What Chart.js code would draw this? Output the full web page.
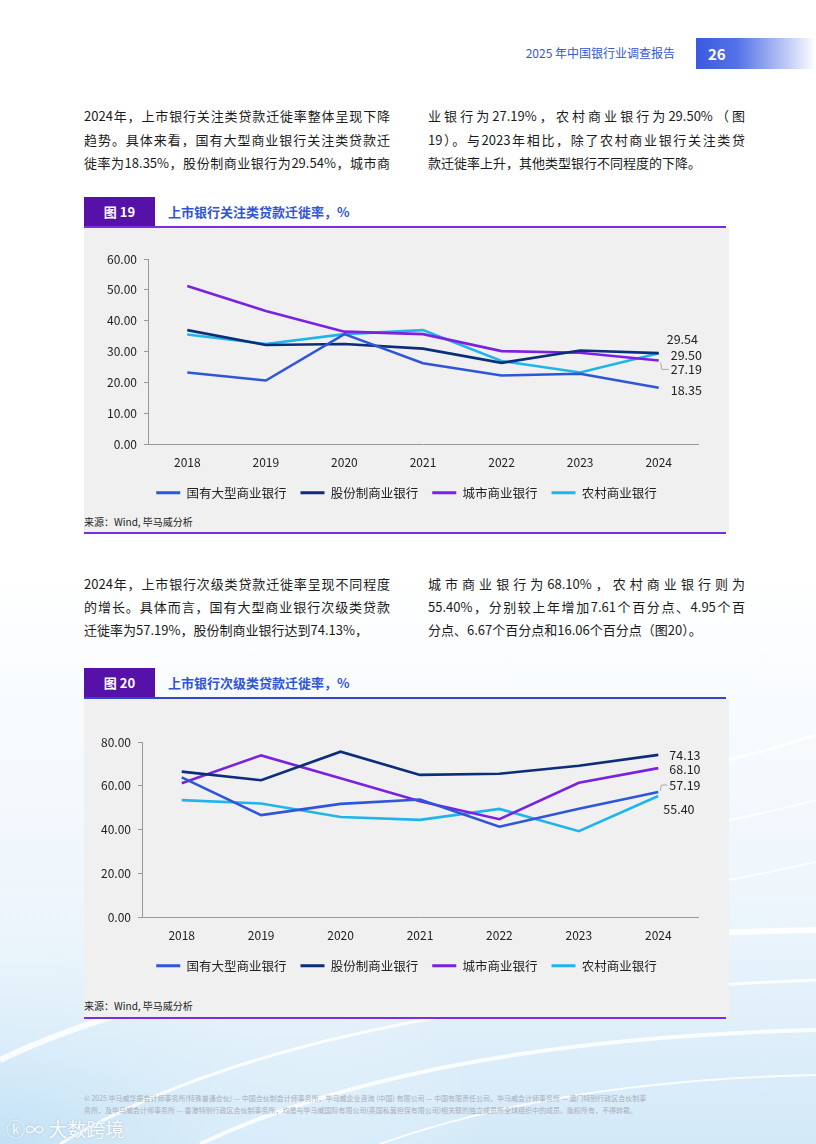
<!DOCTYPE html>
<html>
<head>
<meta charset="utf-8">
<script src="https://cdn.jsdelivr.net/npm/chart.js@4.4.1/dist/chart.umd.min.js"></script>
<style>
  body { margin: 0; }
  #page {
    position: relative; width: 816px; height: 1144px; overflow: hidden; background: #fff;
    font-family: "Noto Sans CJK SC", "Noto Sans", sans-serif; color: #1b1b1b;
  }
  .abs { position: absolute; }
  .line { position: absolute; height: 23px; line-height: 23px; font-size: 13px; white-space: nowrap; }
  .just { text-align: justify; text-align-last: justify; white-space: normal; }
  .figbox { position: absolute; left: 84px; width: 71px; height: 30px; background: #5511a8; color: #fff;
    font-weight: bold; font-size: 13px; line-height: 30px; text-align: center; }
  .figtitle { position: absolute; left: 168px; height: 30px; line-height: 30px; font-size: 13px;
    font-weight: bold; color: #2f55d6; }
  .rule { position: absolute; left: 84px; width: 642px; height: 2px; }
  .panel { position: absolute; left: 84px; width: 645px; background: #f0f0f0; }
  .source { position: absolute; left: 84px; font-size: 10px; color: #222; line-height: 14px; }
  .foot { position: absolute; left: 84px; width: 648px; font-size: 7px; line-height: 12px; color: #a9adb8; white-space: nowrap; }
</style>
</head>
<body>
<div id="page">
  <svg class="abs" style="left:0;top:0" width="816" height="1144">
    <defs>
      <linearGradient id="bgv" x1="0" y1="0" x2="0" y2="1">
        <stop offset="0.5" stop-color="#ffffff"/>
        <stop offset="0.78" stop-color="#eef6fc"/>
        <stop offset="1" stop-color="#d3e9f8"/>
      </linearGradient>
      <radialGradient id="bgl" cx="0" cy="1" r="0.6">
        <stop offset="0" stop-color="#bfe0f5" stop-opacity="0.9"/>
        <stop offset="1" stop-color="#ffffff" stop-opacity="0"/>
      </radialGradient>
    </defs>
    <rect width="816" height="1144" fill="url(#bgv)"/>
    <rect y="700" width="816" height="444" fill="url(#bgl)"/>
    <g fill="none" stroke="#ffffff" stroke-opacity="0.85">
      <path d="M0 1060 Q 250 940 816 930" stroke-width="6"/>
      <path d="M60 1144 Q 300 1000 816 980" stroke-width="3"/>
      <path d="M200 1144 Q 420 1040 816 1030" stroke-width="4"/>
      <path d="M380 1144 Q 560 1080 816 1075" stroke-width="2"/>
      <path d="M729 760 Q 770 750 816 735" stroke-width="3"/>
      <path d="M729 820 Q 770 812 816 800" stroke-width="2"/>
      <path d="M729 880 Q 770 872 816 862" stroke-width="2"/>
    </g>
  </svg>

  <!-- header -->
  <div class="abs" style="right:141px;top:44px;font-size:12px;line-height:18px;color:#3358d4;">2025 年中国银行业调查报告</div>
  <div class="abs" style="left:696px;top:38px;width:120px;height:31px;background:linear-gradient(to right,#3a5ae0 0%,#5573e6 35%,#ffffff 100%);"></div>
  <div class="abs" style="left:708px;top:38px;height:31px;line-height:31px;font-size:15px;font-weight:bold;color:#fff;">26</div>

  <!-- paragraph 1 -->
  <div class="line just" style="left:84px;top:104px;width:306px;">2024年，上市银行关注类贷款迁徙率整体呈现下降</div>
  <div class="line just" style="left:84px;top:128px;width:306px;">趋势。具体来看，国有大型商业银行关注类贷款迁</div>
  <div class="line just" style="left:84px;top:151px;width:306px;">徙率为18.35%，股份制商业银行为29.54%，城市商</div>
  <div class="line just" style="left:428px;top:104px;width:317px;">业银行为27.19%，农村商业银行为29.50%（图</div>
  <div class="line just" style="left:428px;top:128px;width:317px;">19）。与2023年相比，除了农村商业银行关注类贷</div>
  <div class="line" style="left:428px;top:151px;">款迁徙率上升，其他类型银行不同程度的下降。</div>

  <!-- figure 19 -->
  <div class="figbox" style="top:197px;">图 19</div>
  <div class="figtitle" style="top:197px;">上市银行关注类贷款迁徙率，%</div>
  <div class="rule" style="top:226px;background:#7a2ee0;"></div>
  <div class="panel" style="top:228px;height:304px;"></div>
  <div class="abs" style="left:84px;top:228px;width:645px;height:285px;"><canvas id="chart19"></canvas></div>
  <div class="source" style="top:515px;">来源：Wind, 毕马威分析</div>
  <div class="rule" style="top:532px;background:#7a2ee0;"></div>

  <!-- paragraph 2 -->
  <div class="line just" style="left:84px;top:572px;width:306px;">2024年，上市银行次级类贷款迁徙率呈现不同程度</div>
  <div class="line just" style="left:84px;top:595px;width:306px;">的增长。具体而言，国有大型商业银行次级类贷款</div>
  <div class="line" style="left:84px;top:618px;">迁徙率为57.19%，股份制商业银行达到74.13%，</div>
  <div class="line just" style="left:428px;top:572px;width:317px;">城市商业银行为68.10%，农村商业银行则为</div>
  <div class="line just" style="left:428px;top:595px;width:317px;">55.40%，分别较上年增加7.61个百分点、4.95个百</div>
  <div class="line" style="left:428px;top:618px;">分点、6.67个百分点和16.06个百分点（图20）。</div>

  <!-- figure 20 -->
  <div class="figbox" style="top:668px;">图 20</div>
  <div class="figtitle" style="top:668px;">上市银行次级类贷款迁徙率，%</div>
  <div class="rule" style="top:697px;background:#3048c8;"></div>
  <div class="panel" style="top:699px;height:318px;"></div>
  <div class="abs" style="left:84px;top:699px;width:645px;height:287px;"><canvas id="chart20"></canvas></div>
  <div class="source" style="top:999px;">来源：Wind, 毕马威分析</div>
  <div class="rule" style="top:1017px;background:#7a2ee0;"></div>

  <!-- footer -->
  <div class="foot" style="top:1092px;">© 2025 毕马威华振会计师事务所(特殊普通合伙) — 中国合伙制会计师事务所，毕马威企业咨询 (中国) 有限公司 — 中国有限责任公司，毕马威会计师事务所 — 澳门特别行政区合伙制事</div>
  <div class="foot" style="top:1104px;">务所，及毕马威会计师事务所 — 香港特别行政区合伙制事务所，均是与毕马威国际有限公司(英国私营担保有限公司)相关联的独立成员所全球组织中的成员。版权所有，不得转载。</div>
  <div class="abs" style="left:6px;top:1116px;font-size:19px;line-height:26px;color:#ffffff;opacity:0.9;text-shadow:0 0 2px #9bb3c8;">ⓚ∞ 大数跨境</div>
</div>

<script>
// categories
const years = ['2018', '2019', '2020', '2021', '2022', '2023', '2024'];
const seriesNames = ['国有大型商业银行', '股份制商业银行', '城市商业银行', '农村商业银行'];
const seriesColors = ['#2f56d8', '#0c2d7a', '#7a22e0', '#1fb5ec'];

// 图19 关注类贷款迁徙率
const watchGuoyou = [23.3, 20.7, 35.7, 26.3, 22.3, 22.9, 18.35];
const watchGufen = [37.0, 32.2, 32.5, 31.0, 26.4, 30.4, 29.54];
const watchChengshi = [51.3, 43.2, 36.5, 35.7, 30.2, 29.7, 27.19];
const watchNongcun = [35.6, 32.5, 35.7, 37.0, 27.0, 23.3, 29.50];
const watchTicks = [0, 10, 20, 30, 40, 50, 60];

// 图20 次级类贷款迁徙率
const subGuoyou = [63.9, 46.7, 51.8, 53.8, 41.4, 49.58, 57.19];
const subGufen = [66.5, 62.6, 75.6, 65.0, 65.5, 69.18, 74.13];
const subChengshi = [61.2, 73.9, 63.5, 53.0, 44.8, 61.43, 68.10];
const subNongcun = [53.5, 52.0, 45.8, 44.5, 49.5, 39.34, 55.40];
const subTicks = [0, 20, 40, 60, 80];

Chart.defaults.font.family = '"Noto Sans CJK SC", "Noto Sans", sans-serif';
Chart.defaults.color = '#222';

// labels at the end of each line, pixel offsets from the last point
const endLabels = {
  id: 'endLabels',
  afterDatasetsDraw(chart, args, opts) {
    const { ctx } = chart;
    const xs = chart.scales.x, ys = chart.scales.y;
    ctx.save();
    ctx.font = '12.5px "Noto Sans CJK SC", "Noto Sans", sans-serif';
    ctx.fillStyle = '#222';
    ctx.textBaseline = 'middle';
    chart.data.datasets.forEach((ds, i) => {
      const last = ds.data.length - 1;
      const px = xs.getPixelForValue(last);
      const py = ys.getPixelForValue(ds.data[last]);
      const o = opts.offsets[i];
      if (o.leader) {
        ctx.strokeStyle = '#aaa';
        ctx.lineWidth = 1;
        ctx.beginPath();
        ctx.moveTo(px + 2, py + o.leader);
        ctx.lineTo(px + 3, py + o.dy);
        ctx.lineTo(px + o.dx - 2, py + o.dy);
        ctx.stroke();
      }
      ctx.fillText(ds.data[last].toFixed(2), px + o.dx, py + o.dy);
    });
    ctx.restore();
  }
};

function makeChart(id, series, ticks, yWidth, topPad, offsets) {
  const datasets = series.map((data, i) => ({
    label: seriesNames[i],
    data: data,
    borderColor: seriesColors[i],
    backgroundColor: seriesColors[i],
    borderWidth: 2.6,
    pointRadius: 0,
    tension: 0,
    fill: false
  }));
  return new Chart(document.getElementById(id), {
    type: 'line',
    data: { labels: years, datasets: datasets },
    plugins: [endLabels],
    options: {
      responsive: true,
      maintainAspectRatio: false,
      animation: false,
      layout: { padding: { top: topPad, right: 0, left: 0, bottom: 4 } },
      scales: {
        x: {
          offset: true,
          grid: { display: false, drawTicks: false },
          border: { display: true, color: '#999', width: 1 },
          ticks: { padding: 11, font: { size: 12 }, color: '#222' },
          afterFit: s => { s.height = 28; }
        },
        y: {
          min: ticks[0],
          max: ticks[ticks.length - 1],
          afterBuildTicks: s => { s.ticks = ticks.map(v => ({ value: v })); },
          grid: { drawOnChartArea: false, drawTicks: true, tickLength: 4, color: '#999' },
          border: { display: true, color: '#999', width: 1 },
          ticks: { padding: 7, font: { size: 12 }, color: '#222', callback: v => Number(v).toFixed(2) },
          afterFit: s => { s.width = yWidth; }
        },
        // empty right axis keeps room for the end labels while the legend stays centred
        yRight: {
          position: 'right',
          display: true,
          grid: { display: false, drawTicks: false },
          border: { display: false },
          ticks: { display: false },
          afterFit: s => { s.width = 31; }
        }
      },
      plugins: {
        legend: {
          position: 'bottom',
          labels: {
            boxWidth: 24,
            boxHeight: 3,
            padding: 14,
            font: { size: 12.5 },
            color: '#222',
            generateLabels: chart => Chart.defaults.plugins.legend.labels.generateLabels(chart)
              .map(l => Object.assign(l, { lineWidth: 0, fillStyle: l.strokeStyle }))
          }
        },
        tooltip: { enabled: false },
        endLabels: { offsets: offsets }
      }
    }
  });
}

makeChart('chart19', [watchGuoyou, watchGufen, watchChengshi, watchNongcun], watchTicks, 64, 31, [
  { dx: 12, dy: 2 },
  { dx: 8, dy: -14 },
  { dx: 12, dy: 9, leader: 2 },
  { dx: 12, dy: 2 }
]);

makeChart('chart20', [subGuoyou, subGufen, subChengshi, subNongcun], subTicks, 58, 43, [
  { dx: 11, dy: -7, leader: -1 },
  { dx: 11, dy: 0 },
  { dx: 11, dy: 1 },
  { dx: 5, dy: 13 }
]);
</script>
</body>
</html>
